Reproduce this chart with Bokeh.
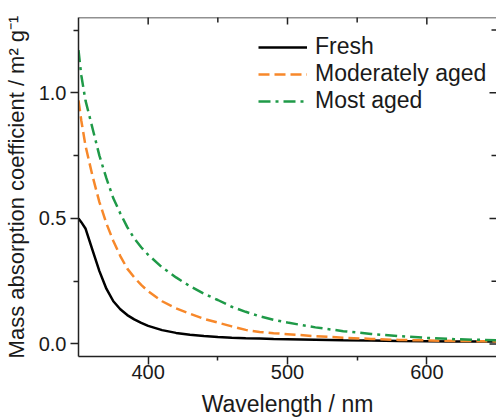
import math
from bokeh.plotting import figure
from bokeh.models import Range1d, FixedTicker, Legend, LegendItem, CustomJSTickFormatter, Span
from bokeh.embed import file_html
from bokeh.resources import INLINE

# ---- data ----
wavelength = [350, 352, 355, 360, 365, 370, 375, 380, 385, 390, 395, 400, 410, 420,
              430, 440, 450, 460, 470, 480, 490, 500, 520, 540, 560, 580, 600, 620,
              640, 650]
fresh = [0.50, 0.485, 0.46, 0.375, 0.29, 0.22, 0.17, 0.138, 0.115, 0.098, 0.084, 0.072,
         0.055, 0.044, 0.037, 0.032, 0.028, 0.025, 0.023, 0.022, 0.020, 0.019, 0.017,
         0.015, 0.014, 0.012, 0.011, 0.010, 0.010, 0.010]
moderately_aged = [0.97, 0.89, 0.79, 0.67, 0.565, 0.48, 0.41, 0.35, 0.30, 0.265, 0.235,
                   0.21, 0.17, 0.142, 0.12, 0.10, 0.085, 0.07, 0.056, 0.048, 0.043,
                   0.039, 0.031, 0.025, 0.020, 0.016, 0.014, 0.012, 0.011, 0.010]
most_aged = [1.17, 1.07, 0.97, 0.86, 0.75, 0.66, 0.58, 0.52, 0.465, 0.42, 0.385, 0.355,
             0.305, 0.265, 0.23, 0.20, 0.175, 0.148, 0.128, 0.11, 0.096, 0.085, 0.066,
             0.051, 0.040, 0.031, 0.024, 0.019, 0.016, 0.015]
series_names = ["Fresh", "Moderately aged", "Most aged"]
x_major = [400, 500, 600]
x_minor = [450, 550]
y_major = [0.0, 0.5, 1.0]
y_minor = [0.25, 0.75, 1.25]
x_lo, x_hi = 350, 650
y_lo, y_hi = -0.05, 1.3

FONT = "Liberation Sans"
TXT = "#1a1a1a"
AX = "#222222"

p = figure(width=496, height=419, output_backend="svg", toolbar_location=None,
           x_range=Range1d(x_lo, x_hi), y_range=Range1d(y_lo, y_hi),
           min_border_left=77, min_border_right=0, min_border_top=17,
           min_border_bottom=63)
p.outline_line_color = None
p.grid.visible = False
p.background_fill_color = "white"
p.border_fill_color = "white"

def style_axis(ax, ticks, minor):
    ax.ticker = FixedTicker(ticks=ticks, minor_ticks=minor)
    ax.axis_line_color = AX
    ax.axis_line_width = 1.5
    ax.major_tick_line_color = AX
    ax.minor_tick_line_color = AX
    ax.major_tick_line_width = 1.5
    ax.minor_tick_line_width = 1.5

# bottom axis
xa = p.xaxis[0]
style_axis(xa, x_major, x_minor)
xa.major_tick_out = 8
xa.major_tick_in = 0
xa.minor_tick_out = 4
xa.minor_tick_in = 0
xa.major_label_standoff = 0
xa.major_label_text_font = FONT
xa.major_label_text_font_size = "20px"
xa.major_label_text_color = TXT
xa.axis_label = "Wavelength / nm"
xa.axis_label_text_font = FONT
xa.axis_label_text_font_size = "23px"
xa.axis_label_text_font_style = "normal"
xa.axis_label_text_color = TXT
xa.axis_label_standoff = 9

# left axis
ya = p.yaxis[0]
style_axis(ya, y_major, y_minor)
ya.major_tick_out = 8
ya.major_tick_in = 0
ya.minor_tick_out = 5
ya.minor_tick_in = 0
ya.major_label_standoff = 4
ya.major_label_text_font = FONT
ya.major_label_text_font_size = "20px"
ya.major_label_text_color = TXT
ya.formatter = CustomJSTickFormatter(code="return tick.toFixed(1);")
ya.axis_label = "Mass absorption coefficient / m\u00b2 g\u207b\u00b9"
ya.axis_label_text_font = FONT
ya.axis_label_text_font_size = "22px"
ya.axis_label_text_font_style = "normal"
ya.axis_label_text_color = TXT
ya.axis_label_standoff = 7

# top frame line and inward ticks (marks are clipped to the frame, so only the inner half shows)
p.add_layout(Span(location=y_hi, dimension="width", line_color=AX, line_width=1.5))
p.scatter(x_major, [y_hi] * len(x_major), marker="dash", angle=math.pi / 2, size=14,
          line_color=AX, line_width=1.5)
p.scatter(x_minor, [y_hi] * len(x_minor), marker="dash", angle=math.pi / 2, size=10,
          line_color=AX, line_width=1.5)
# right side inward ticks (the right frame line itself lies outside the picture)
p.scatter([x_hi] * len(y_major), y_major, marker="dash", size=14,
          line_color=AX, line_width=1.5)
p.scatter([x_hi] * len(y_minor), y_minor, marker="dash", size=10,
          line_color=AX, line_width=1.5)

r1 = p.line(wavelength, fresh, line_color="#000000", line_width=2.5)
r2 = p.line(wavelength, moderately_aged, line_color="#f7882a", line_width=2.5,
            line_dash="11 5")
r3 = p.line(wavelength, most_aged, line_color="#1f9a48", line_width=2.5,
            line_dash="12 5 3 5")

legend = Legend(items=[LegendItem(label=series_names[0], renderers=[r1]),
                       LegendItem(label=series_names[1], renderers=[r2]),
                       LegendItem(label=series_names[2], renderers=[r3])],
                location=(180, 242))
legend.background_fill_alpha = 0
legend.border_line_color = None
legend.padding = 0
legend.margin = 0
legend.spacing = 0
legend.glyph_width = 49
legend.glyph_height = 20
legend.label_standoff = 8
legend.label_text_font = FONT
legend.label_text_font_size = "23px"
legend.label_text_color = TXT
p.add_layout(legend)

open("out.html", "w").write(file_html(p, INLINE))
